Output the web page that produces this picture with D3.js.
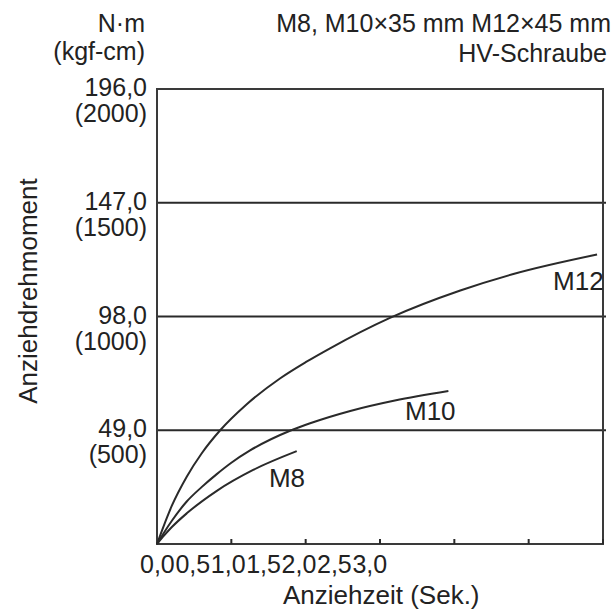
<!DOCTYPE html>
<html>
<head>
<meta charset="utf-8">
<script src="https://cdn.jsdelivr.net/npm/d3@7"></script>
<style>
  html, body { margin: 0; padding: 0; background: #fff; }
  svg text { font-family: "Liberation Sans", Arial, sans-serif; fill: #222; }
</style>
</head>
<body>
<svg id="chart" width="615" height="612"></svg>
<script>
// ---- data ----
const xTickValues = [0, 0.5, 1.0, 1.5, 2.0, 2.5, 3.0];
const xTickLabels = ["0,0", "0,5", "1,0", "1,5", "2,0", "2,5", "3,0"];
const yTickValues = [49, 98, 147, 196];
const yTickNm = ["49,0", "98,0", "147,0", "196,0"];
const yTickKgf = ["(500)", "(1000)", "(1500)", "(2000)"];

const seriesNames = ["M12", "M10", "M8"];
const m12 = [[0,0],[0.05,8.6],[0.1,16.5],[0.2,29],[0.3,39],[0.425,49],[0.6,60],[0.827,71.3],[1.0,78.3],[1.164,84.3],[1.567,97.4],[2.04,109.2],[2.397,116.3],[2.96,124.7]];
const m10 = [[0,0],[0.05,5.2],[0.1,10],[0.2,18.3],[0.3,24.5],[0.4,30],[0.5,35],[0.626,40.3],[0.895,48.8],[1.03,52],[1.3,57.3],[1.6,61.8],[1.96,65.9]];
const m8  = [[0,0],[0.05,3.8],[0.1,7.3],[0.2,13.2],[0.4,22.8],[0.65,32],[0.94,40]];
const seriesData = [m12, m10, m8];
const labelPos = [[2.664,109.4],[1.668,53.4],[0.753,24.6]];

// ---- layout ----
const svg = d3.select("#chart");
const x = d3.scaleLinear().domain([0, 3.0]).range([157, 603]);
const y = d3.scaleLinear().domain([0, 196]).range([544, 89]);
const ink = "#2a2a2a";
const fs = 26;

// gridlines
svg.append("g").selectAll("line")
  .data(yTickValues.slice(0, 3))
  .join("line")
  .attr("x1", x(0)).attr("x2", x(3.0) + 3)
  .attr("y1", d => y(d)).attr("y2", d => y(d))
  .attr("stroke", ink).attr("stroke-width", 2);

// frame
svg.append("rect")
  .attr("x", x(0)).attr("y", y(196))
  .attr("width", x(3.0) - x(0)).attr("height", y(0) - y(196))
  .attr("fill", "none").attr("stroke", "#3a3a3a").attr("stroke-width", 2);

// x ticks (inside, up from bottom)
svg.append("g").selectAll("line")
  .data(xTickValues.slice(1))
  .join("line")
  .attr("x1", d => x(d)).attr("x2", d => x(d))
  .attr("y1", y(0)).attr("y2", y(0) - 5)
  .attr("stroke", ink).attr("stroke-width", 2);

// x tick labels (packed together as in the original)
const xl = d3.scalePoint().domain(xTickLabels).range([140, 140 + 6 * 35.4]);
svg.append("g").selectAll("text")
  .data(xTickLabels)
  .join("text")
  .attr("x", d => xl(d)).attr("y", 573)
  .attr("font-size", 25)
  .text(d => d);

// y tick labels
const yl = svg.append("g").selectAll("g")
  .data(yTickValues)
  .join("g")
  .attr("transform", d => `translate(147,${y(d)})`);
yl.append("text").attr("text-anchor", "end").attr("y", 7).attr("font-size", 25)
  .text((d, i) => yTickNm[i]);
yl.append("text").attr("text-anchor", "end").attr("y", 33).attr("font-size", 25)
  .text((d, i) => yTickKgf[i]);

// unit labels
svg.append("text").attr("x", 145).attr("y", 32).attr("text-anchor", "end").attr("font-size", 25).text("N·m");
svg.append("text").attr("x", 145).attr("y", 60).attr("text-anchor", "end").attr("font-size", 25).text("(kgf-cm)");

// header right
svg.append("text").attr("x", 611).attr("y", 32).attr("text-anchor", "end").attr("font-size", 25).text("M8, M10×35 mm M12×45 mm");
svg.append("text").attr("x", 607).attr("y", 62).attr("text-anchor", "end").attr("font-size", 25).text("HV-Schraube");

// axis titles
svg.append("text").attr("x", 283).attr("y", 604).attr("font-size", fs).text("Anziehzeit (Sek.)");
svg.append("text").attr("transform", "translate(37,291) rotate(-90)")
  .attr("text-anchor", "middle").attr("font-size", fs).text("Anziehdrehmoment");

// curves
const line = d3.line().x(d => x(d[0])).y(d => y(d[1])).curve(d3.curveMonotoneX);
svg.append("g").selectAll("path")
  .data(seriesData)
  .join("path")
  .attr("d", line)
  .attr("fill", "none").attr("stroke", ink).attr("stroke-width", 2);

// curve labels
svg.append("g").selectAll("text")
  .data(seriesNames)
  .join("text")
  .attr("x", (d, i) => x(labelPos[i][0]))
  .attr("y", (d, i) => y(labelPos[i][1]))
  .attr("font-size", fs)
  .text(d => d);
</script>
</body>
</html>
